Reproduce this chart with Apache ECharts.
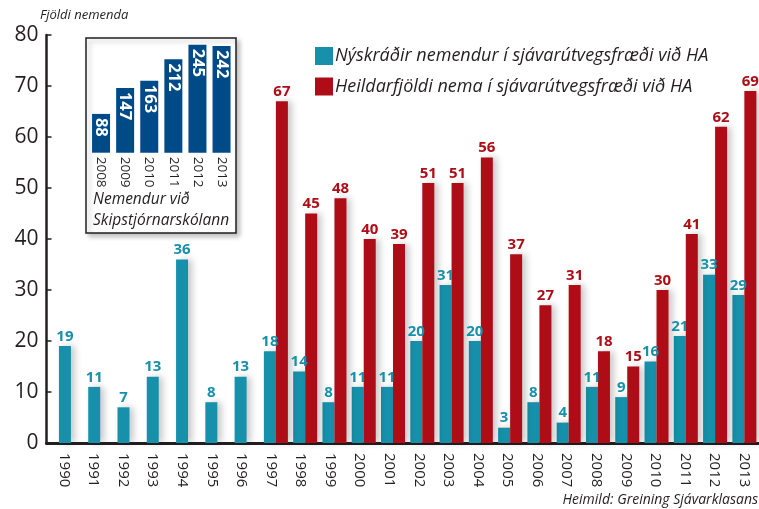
<!DOCTYPE html>
<html>
<head>
<meta charset="utf-8">
<script src="https://cdn.jsdelivr.net/npm/echarts@6/dist/echarts.min.js"></script>
<style>
html,body{margin:0;padding:0;background:#fff;}
#c{width:759px;height:509px;}
</style>
</head>
<body>
<div id="c"></div>
<script>
const years = ['1990','1991','1992','1993','1994','1995','1996','1997','1998','1999','2000','2001','2002','2003','2004','2005','2006','2007','2008','2009','2010','2011','2012','2013'];
const newStudents = [19,11,7,13,36,8,13,18,14,8,11,11,20,31,20,3,8,4,11,9,16,21,33,29];
const totalStudents = ['-','-','-','-','-','-','-',67,45,48,40,39,51,51,56,37,27,31,18,15,30,41,62,69];
const insetYears = ['2008','2009','2010','2011','2012','2013'];
const insetValues = [88,147,163,212,245,242];
const yMin = 0, yMax = 80, yStep = 10;

const TEAL = '#1791ab', RED = '#ae0d17', NAVY = '#004a88', INK = '#231f20';
const FONT = '"Open Sans", "Noto Sans", sans-serif';
const shadow = {shadowColor:'rgba(0,0,0,0.22)', shadowBlur:7, shadowOffsetX:4};

const chart = echarts.init(document.getElementById('c'));
chart.setOption({
  animation:false,
  textStyle:{fontFamily:FONT},
  grid:[
    {left:46.5, right:0, top:35, bottom:66},
    {left:56.3, width:704.6, top:35, bottom:66},
    {left:49.1, width:715, top:35, bottom:66},
    {left:89, width:144.6, top:42.5, height:110.2}
  ],
  xAxis:[
    {gridIndex:0, type:'category', data:years, axisLine:{lineStyle:{color:INK,width:3}}, axisTick:{show:false}, axisLabel:{show:false}},
    {gridIndex:1, type:'category', data:years, show:false},
    {gridIndex:2, type:'category', data:years, axisLine:{show:false}, axisTick:{show:false},
      axisLabel:{rotate:-90, margin:10, fontSize:15, color:INK, fontFamily:FONT}},
    {gridIndex:3, type:'category', data:insetYears, axisLine:{show:false}, axisTick:{show:false},
      axisLabel:{rotate:-90, margin:4, fontSize:13.5, color:INK, fontFamily:FONT}}
  ],
  yAxis:[
    {gridIndex:0, type:'value', min:yMin, max:yMax, interval:yStep,
      axisLine:{show:true, lineStyle:{color:INK,width:2.5}},
      axisTick:{show:true, inside:true, length:5, lineStyle:{color:INK,width:1.5}},
      axisLabel:{fontSize:21, color:INK, margin:8, fontFamily:FONT},
      splitLine:{show:false}},
    {gridIndex:1, type:'value', min:yMin, max:yMax, show:false, splitLine:{show:false}},
    {gridIndex:2, type:'value', min:yMin, max:yMax, show:false, splitLine:{show:false}},
    {gridIndex:3, type:'value', min:0, max:250, show:false, splitLine:{show:false}}
  ],
  legend:{
    orient:'vertical', left:310, top:42, itemWidth:18, itemHeight:18, itemGap:12.5, icon:'rect',
    data:['Nýskráðir nemendur í sjávarútvegsfræði við HA','Heildarfjöldi nema í sjávarútvegsfræði við HA'],
    itemStyle:{shadowBlur:0, shadowOffsetX:0},
    textStyle:{fontStyle:'italic', fontSize:18, color:INK, fontFamily:FONT, padding:[0,0,0,-3]}
  },
  graphic:[
    {type:'rect', z:0, shape:{x:86, y:38, width:150, height:195},
      style:{fill:'#fff', stroke:INK, lineWidth:1.5, shadowColor:'rgba(0,0,0,0.25)', shadowBlur:5, shadowOffsetX:3, shadowOffsetY:3}},
    {type:'text', z:5, left:93, top:189, style:{text:'Nemendur við\nSkipstjórnarskólann', font:'italic 15.5px "Open Sans"', fill:INK, lineHeight:21}},
    {type:'text', z:5, left:40, top:9, style:{text:'Fjöldi nemenda', font:'italic 13px "Open Sans"', fill:INK}},
    {type:'text', z:5, right:1, top:493, style:{text:'Heimild: Greining Sjávarklasans', font:'italic 14px "Open Sans"', fill:INK}}
  ],
  series:[
    {name:'Nýskráðir nemendur í sjávarútvegsfræði við HA', type:'bar', xAxisIndex:1, yAxisIndex:1,
      data:newStudents, barWidth:12, barGap:'0%',
      itemStyle:Object.assign({color:TEAL}, shadow),
      label:{show:true, position:'top', distance:2, color:TEAL, fontWeight:'bold', fontSize:15, fontFamily:FONT}},
    {name:'Heildarfjöldi nema í sjávarútvegsfræði við HA', type:'bar', xAxisIndex:1, yAxisIndex:1,
      data:totalStudents, barWidth:12, barGap:'0%',
      itemStyle:Object.assign({color:RED}, shadow),
      label:{show:true, position:'top', distance:2, color:RED, fontWeight:'bold', fontSize:15, fontFamily:FONT}},
    {name:'inset', type:'bar', xAxisIndex:3, yAxisIndex:3, data:insetValues, barWidth:18, z:10,
      itemStyle:{color:NAVY},
      label:{show:true, position:'insideTop', distance:4, rotate:-90, align:'left', verticalAlign:'middle',
        color:'#fff', fontWeight:'bold', fontSize:16.5, fontFamily:FONT}}
  ]
});
</script>
</body>
</html>
